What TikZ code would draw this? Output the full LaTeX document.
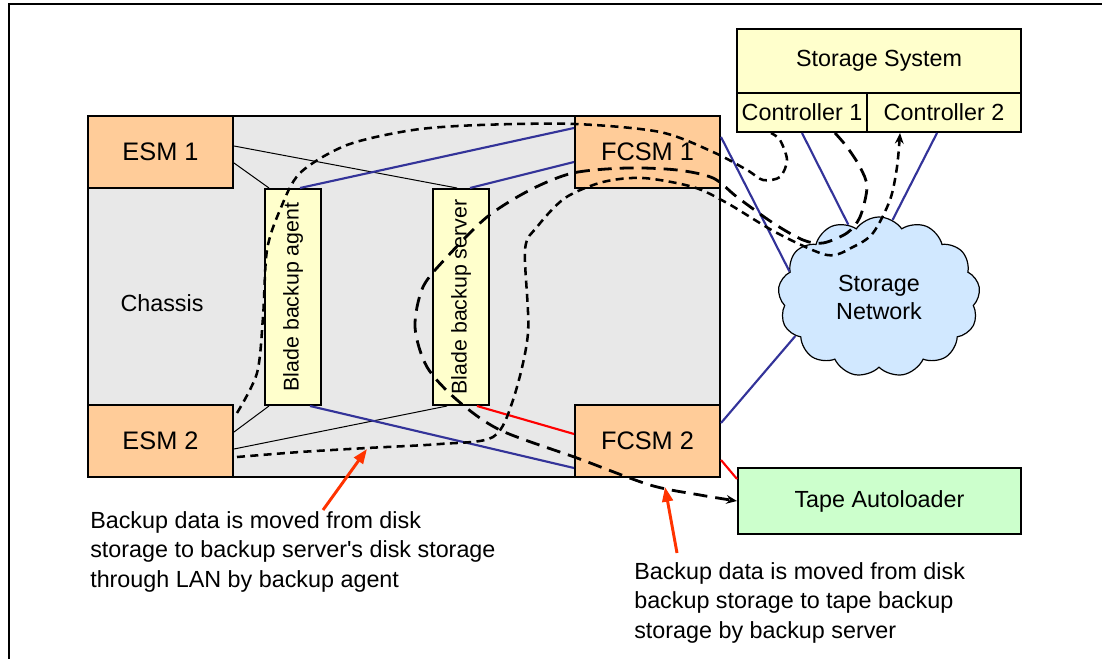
\documentclass[tikz,border=0pt]{standalone}
\usepackage{fontspec}
\setmainfont{Liberation Sans}
\usetikzlibrary{arrows.meta,calc,shapes.symbols}

\definecolor{chassisgray}{HTML}{E8E8E8}
\definecolor{modpeach}{HTML}{FFCC99}
\definecolor{bladeyellow}{HTML}{FFFFCC}
\definecolor{netblue}{HTML}{D1E8FF}
\definecolor{tapegreen}{HTML}{CCFFCC}
\definecolor{linkblue}{HTML}{333399}
\definecolor{noteorange}{HTML}{FF3300}

\tikzset{
  box/.style={draw, line width=1.5pt, inner sep=0pt},
  module/.style={box, fill=modpeach, minimum width=108.75pt, minimum height=54pt,
    font=\fontsize{19}{23}\selectfont},
  blade/.style={box, fill=bladeyellow, minimum width=42pt, minimum height=162pt,
    font=\fontsize{16}{19}\selectfont},
  ctrlbox/.style={box, fill=bladeyellow, minimum height=29.25pt},
  wire/.style={black, line width=0.75pt},
  fclink/.style={linkblue, line width=1.6pt},
  tapelink/.style={red, line width=1.6pt},
  flow/.style={line width=1.9pt, dash pattern=on 6pt off 4pt},
  longflow/.style={line width=2.1pt, dash pattern=on 10.5pt off 6pt},
  flowtip/.style={-{Stealth[length=8pt,width=6.5pt]}},
  callout/.style={noteorange, line width=2.2pt, -{Triangle[length=11pt,width=8pt]}},
  note/.style={align=left, inner sep=0pt, anchor=north west,
    font=\fontsize{17.5}{22.1}\selectfont}
}

\begin{document}
\begin{tikzpicture}[x=0.75pt,y=-0.75pt,font=\fontsize{17.5}{21}\selectfont]
\useasboundingbox (0,0) rectangle (1102,659);

% page frame
\draw[line width=1.5pt] (9,659) -- (9,4) -- (1102,4);

% chassis and its modules
\node[box, fill=chassisgray, minimum width=474pt, minimum height=270.75pt] (chassis) at (404,296.5) {};
\node (chassislabel) at (162,303) {Chassis};
\node[module] (esm1) at (160.5,152) {ESM 1};
\node[module] (esm2) at (160.5,441) {ESM 2};
\node[module] (fcsm1) at (647.5,152) {FCSM 1};
\node[module] (fcsm2) at (647.5,441) {FCSM 2};
\node[blade] (agent) at (293,297) {\rotatebox{90}{Blade backup agent}};
\node[blade] (server) at (461,297) {\rotatebox{90}{Blade backup server}};

% storage side
\node[box, fill=bladeyellow, minimum width=213pt, minimum height=48pt] (storage) at (879,61) {Storage System};
\node[ctrlbox, minimum width=97.5pt] (ctrl1) at (802,112.5) {Controller 1};
\node[ctrlbox, minimum width=115.5pt] (ctrl2) at (944,112.5) {Controller 2};
\node[cloud, draw, line width=0.9pt, fill=netblue, cloud puffs=13, cloud puff arc=110, aspect=1.26,
  minimum width=151.5pt, minimum height=120pt, align=center, inner sep=0pt] (san) at (879,297) {Storage\\Network};
\node[box, fill=tapegreen, minimum width=212.25pt, minimum height=49.5pt] (tape) at (879.5,501) {Tape Autoloader};

% Ethernet wiring
\draw[wire] ($(esm1.east)+(0,-6)$) -- ($(server.north)+(-4,0)$);
\draw[wire] ($(esm1.east)+(0,11)$) -- ($(agent.north west)+(5,0)$);
\draw[wire] ($(esm2.east)+(0,-9)$) -- ($(agent.south west)+(5,0)$);
\draw[wire] ($(esm2.east)+(0,8)$) -- ($(server.south)+(-14,0)$);

% Fibre channel links
\draw[fclink] ($(agent.north)+(7,0)$) -- ($(fcsm1.west)+(0,-24)$);
\draw[fclink] ($(server.north)+(9,0)$) -- ($(fcsm1.west)+(0,10)$);
\draw[fclink] ($(agent.south)+(17,0)$) -- ($(fcsm2.west)+(0,27)$);
\draw[fclink] ($(fcsm1.east)+(0,-15)$) -- (san.164);
\draw[fclink] ($(fcsm2.east)+(0,-18)$) -- (san.205);
\draw[fclink] (ctrl1.south) -- (san.113);
\draw[fclink] ($(ctrl2.south)+(-7,0)$) -- (san.80);
\draw[tapelink] ($(server.south)+(16,0)$) -- ($(fcsm2.west)+(0,-7)$);
\draw[tapelink] ($(fcsm2.east)+(0,19)$) -- ($(tape.north west)+(0,12)$);

% data flows
\draw[flow] plot[smooth] coordinates {($(esm2.east)+(3,-28)$) (257,373) (263,317) (267,250) (280,210)
  (300,173) (347,145) (413,130) (480,125) (575,124) (660,132) (713,152) (747,170) (763,180)
  (780,177) (787,160) (780,140) ($(ctrl1.south west)+(35,0)$)};
\draw[flow, flowtip] plot[smooth] coordinates {($(esm2.east)+(3,16)$) (300,452) (367,448) (440,444)
  (493,437) (513,400) (528,333) (525,250) (537,227) (565,198) (603,182) (643,178) (693,187)
  (727,203) (777,233) (827,255) (853,247) (873,233) (890,200) (897,167) ($(ctrl2.south west)+(34,0)$)};
\draw[longflow, flowtip] plot[smooth] coordinates {($(ctrl1.south)+(33,0)$) (847,147) (860,167)
  (867,187) (860,217) (847,233) (823,243) (803,240) (773,223) (737,197) (713,178) (677,170)
  (627,168) (573,173) (530,190) (487,217) (447,257) (423,287) (415,327) (427,367) (457,400)
  (500,430) (577,458) (650,485) (700,495) (tape.west)};

% notes
\node[note] (note1) at (90,511) {Backup data is moved from disk\\storage to backup server\textquotesingle s disk storage\\through LAN by backup agent};
\node[note] (note2) at (634,562) {Backup data is moved from disk\\backup storage to tape backup\\storage by backup server};
\coordinate (lanpoint) at (367,449);
\coordinate (tapepoint) at (665,487);
\draw[callout] ($(note1.north west)+(233,-1)$) -- (lanpoint);
\draw[callout] ($(note2.north west)+(43,-9)$) -- (tapepoint);

\end{tikzpicture}
\end{document}
